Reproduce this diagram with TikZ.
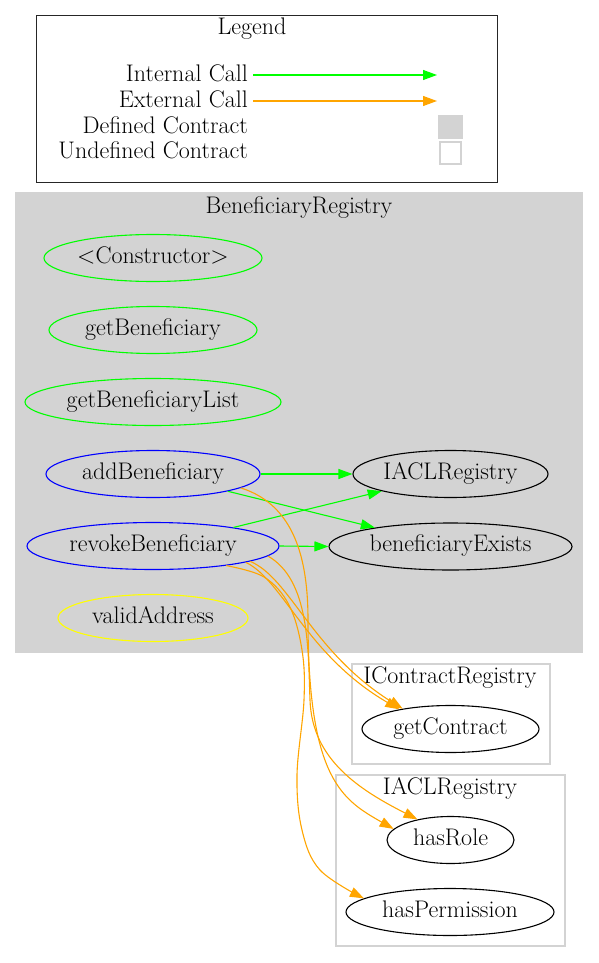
\documentclass[tikz,border=0pt]{standalone}
\usetikzlibrary{shapes.geometric,arrows.meta}
\definecolor{lgray}{HTML}{D3D3D3}
\definecolor{orng}{HTML}{FFA500}
\definecolor{grn}{HTML}{00FF00}
\definecolor{blu}{HTML}{0000FF}
\definecolor{yel}{HTML}{FFFF00}
\begin{document}
\begin{tikzpicture}[x=1pt,y=-1pt,
  every node/.style={font=\fontsize{24}{29}\selectfont, text height=16pt, text depth=5.5pt},
  fn/.style={ellipse, draw, line width=1.1pt, inner sep=0pt, minimum height=47pt},
  lbl/.style={anchor=east, inner sep=0pt},
  iarrow/.style={draw=grn, line width=1.1pt, -{Triangle[length=14pt,width=10pt]}},
  earrow/.style={draw=orng, line width=1.1pt, -{Triangle[length=14pt,width=10pt]}},
  clus/.style={draw=lgray, line width=1.2pt}]
\useasboundingbox (0,0) rectangle (599,963);
% Legend
\draw[black!85, line width=1pt] (36,16) rectangle (497,182);
\node (legt) at (252,29) {Legend};
\node[lbl] (lint) at (248,76) {Internal Call};
\node[lbl] (lext) at (248,102) {External Call};
\node[lbl] (ldef) at (248,128) {Defined Contract};
\node[lbl] (lund) at (248,153) {Undefined Contract};
\coordinate (lintE) at (437,75);
\coordinate (lextE) at (437,101);
\draw[iarrow] ([xshift=5pt]lint.east|-lintE) -- (lintE);
\draw[earrow] ([xshift=5pt]lext.east|-lextE) -- (lextE);
\fill[lgray] (438,115) rectangle (463,139);
\draw[lgray, line width=1.5pt, fill=white] (440,142) rectangle (461,164);
% Clusters
\fill[lgray] (15,192) rectangle (583,653);
\node (cbr) at (299,208) {BeneficiaryRegistry};
\draw[clus] (352,664) rectangle (550,764);
\node (ccr) at (450,678) {IContractRegistry};
\draw[clus] (336,775) rectangle (565,946);
\node (cacl) at (450,789) {IACLRegistry};
% Nodes
\node[fn, draw=grn, minimum width=218pt] (ctor) at (153,258) {<Constructor>};
\node[fn, draw=grn, minimum width=208pt] (getb) at (153,330) {getBeneficiary};
\node[fn, draw=grn, minimum width=256pt] (getbl) at (153,402) {getBeneficiaryList};
\node[fn, draw=blu, minimum width=214pt] (add) at (153,474) {addBeneficiary};
\node[fn, draw=blu, minimum width=252pt] (rev) at (153,546) {revokeBeneficiary};
\node[fn, draw=yel, minimum width=190pt] (valid) at (153,618) {validAddress};
\node[fn, minimum width=195pt] (iacl) at (450.5,474) {IACLRegistry};
\node[fn, minimum width=243pt] (bex) at (450.5,546.5) {beneficiaryExists};
\node[fn, minimum width=177pt] (gc) at (450.5,729) {getContract};
\node[fn, minimum width=127pt] (hr) at (450.5,840) {hasRole};
\node[fn, minimum width=208pt] (hp) at (450,912) {hasPermission};
% Internal calls
\draw[iarrow] (add.east) -- (iacl.west);
\draw[iarrow] (add.-13.7) -- (bex.166.6);
\draw[iarrow] (rev.13.5) -- (iacl.194.7);
\draw[iarrow] (rev.east) -- (bex.west);
% External calls
\draw[earrow] (add.-9) .. controls (295,505) and (308,560) .. (308,620)
  .. controls (308,780) and (343,800) .. (hr.169);
\draw[earrow] plot[smooth, tension=0.6] coordinates {(rev.-15.6) (264,577) (289,605) (302,650) (304,700) (297,775) (302,830) (320,870) (hp.171.5)};
\draw[earrow] (rev.-10.5) .. controls (283,580) and (306,655) .. (gc.159.4);
\draw[earrow] (rev.-9.2) .. controls (290,578) and (312,652) .. (gc.157.4);
\draw[earrow] (rev.-5.6) .. controls (310,580) and (308,650) .. (310,700)
  .. controls (312,760) and (360,790) .. (hr.148);
\end{tikzpicture}
\end{document}
